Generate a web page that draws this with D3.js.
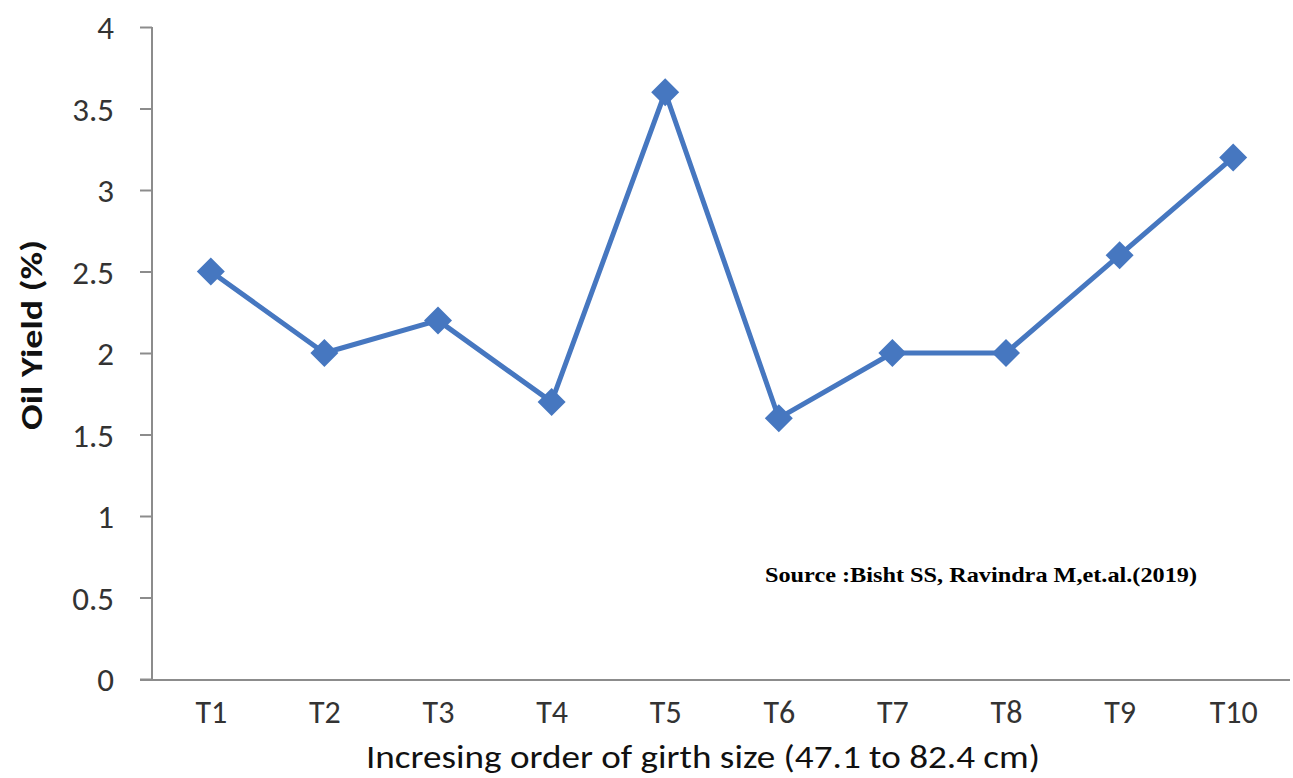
<!DOCTYPE html>
<html>
<head>
<meta charset="utf-8">
<script src="https://cdn.jsdelivr.net/npm/d3@7"></script>
<style>
  html, body { margin: 0; padding: 0; background: #ffffff; }
  svg { display: block; }
</style>
</head>
<body>
<svg id="chart" width="1293" height="778"></svg>
<script>
const categories = ["T1", "T2", "T3", "T4", "T5", "T6", "T7", "T8", "T9", "T10"];
const oilYield = [2.5, 2.0, 2.2, 1.7, 3.6, 1.6, 2.0, 2.0, 2.6, 3.2];
const yTicks = [0, 0.5, 1, 1.5, 2, 2.5, 3, 3.5, 4];
const xTitle = "Incresing order of girth size (47.1 to 82.4 cm)";
const yTitle = "Oil Yield (%)";
const sourceText = "Source :Bisht SS, Ravindra M,et.al.(2019)";

const svg = d3.select("#chart");
const font = "Carlito, Lato, 'Open Sans', sans-serif";
const lineColor = "#4677c0";
const axisColor = "#8c8c8c";

const x = d3.scalePoint().domain(categories).range([154, 1290]).padding(0.5);
const y = d3.scaleLinear().domain([0, 4]).range([679, 27]);

// Y axis
const yAxis = d3.axisLeft(y).tickValues(yTicks).tickSize(12).tickPadding(26)
  .tickFormat(d => String(d));
const gy = svg.append("g").attr("transform", "translate(152,0)").call(yAxis);
gy.select(".domain").attr("stroke", axisColor).attr("stroke-width", 2).attr("d", "M0," + y(4) + "V" + y(0));
gy.selectAll(".tick line").attr("stroke", axisColor).attr("stroke-width", 2);
gy.selectAll(".tick text").attr("font-family", font).attr("font-size", 33)
  .attr("fill", "#333").attr("dy", "0.36em");

// X axis
const xAxis = d3.axisBottom(x).tickSize(0).tickPadding(20);
const gx = svg.append("g").attr("transform", "translate(0,680)").call(xAxis);
gx.select(".domain").attr("stroke", axisColor).attr("stroke-width", 2).attr("d", "M140,0H1290");
gx.selectAll(".tick text").attr("font-family", font).attr("font-size", 32)
  .attr("fill", "#333");

// Line
const line = d3.line().x((d, i) => x(categories[i])).y(d => y(d));
svg.append("path").datum(oilYield).attr("d", line)
  .attr("fill", "none").attr("stroke", lineColor).attr("stroke-width", 5)
  .attr("stroke-linejoin", "round");

// Diamond markers
svg.selectAll(".pt").data(oilYield).enter().append("path")
  .attr("class", "pt")
  .attr("transform", (d, i) => `translate(${x(categories[i])},${y(d)})`)
  .attr("d", "M0,-14L14,0L0,14L-14,0Z")
  .attr("fill", lineColor);

// Titles
svg.append("text").attr("x", 703).attr("y", 768).attr("text-anchor", "middle")
  .attr("font-family", font).attr("font-size", 33).attr("font-weight", 500).attr("fill", "#111")
  .attr("textLength", 674).attr("lengthAdjust", "spacingAndGlyphs")
  .text(xTitle);

svg.append("text").attr("transform", "translate(42,335) rotate(-90)")
  .attr("text-anchor", "middle").attr("font-family", font).attr("font-weight", "bold")
  .attr("font-size", 31).attr("fill", "#111")
  .attr("textLength", 190).attr("lengthAdjust", "spacingAndGlyphs")
  .text(yTitle);

svg.append("text").attr("x", 765).attr("y", 582)
  .attr("font-family", "'Liberation Serif', 'Times New Roman', serif").attr("font-weight", "bold")
  .attr("font-size", 22).attr("fill", "#000")
  .attr("textLength", 432).attr("lengthAdjust", "spacingAndGlyphs")
  .text(sourceText);
</script>
</body>
</html>
